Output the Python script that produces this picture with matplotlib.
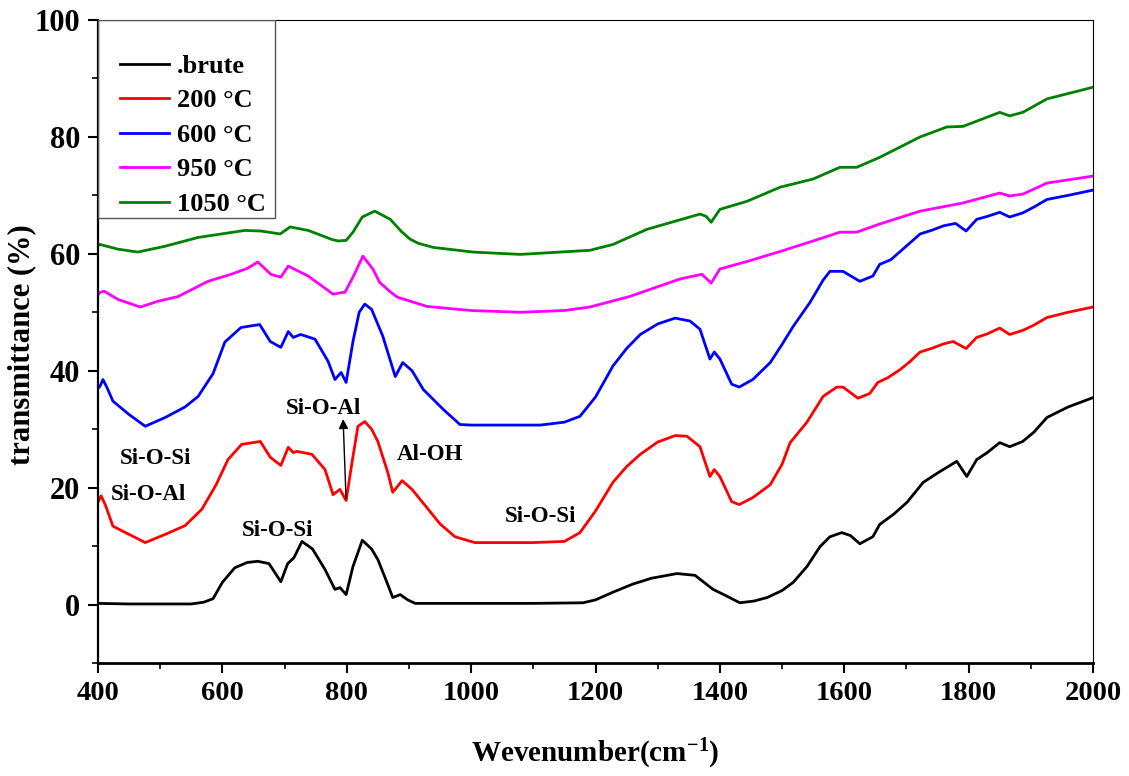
import matplotlib
matplotlib.use("Agg")
import matplotlib.pyplot as plt
from matplotlib.patches import Rectangle
from matplotlib.ticker import MultipleLocator

plt.rcParams['font.family'] = ['Liberation Serif', 'DejaVu Serif']
plt.rcParams['font.weight'] = 'bold'
plt.rcParams['mathtext.fontset'] = 'custom'
plt.rcParams['mathtext.rm'] = 'Liberation Serif:bold'
plt.rcParams['mathtext.it'] = 'Liberation Serif:bold'
plt.rcParams['mathtext.bf'] = 'Liberation Serif:bold'
plt.rcParams['mathtext.default'] = 'rm'

labels = ['.brute', '200 °C', '600 °C', '950 °C', '1050 °C']
colors = ['#000000', '#ff0000', '#0000ff', '#ff00ff', '#008000']

x_brute = [400, 450, 500, 550, 570, 585, 600, 620, 640, 657, 675, 694, 705, 715, 728, 745, 765, 781, 789, 799,
           810, 825, 840, 850, 862, 874, 886, 898, 910, 950, 1000, 1100, 1180, 1200, 1230, 1260, 1290, 1331, 1360,
           1389, 1410, 1432, 1455, 1476, 1500, 1518, 1540, 1561, 1577, 1596, 1610, 1625, 1646, 1657, 1680, 1701,
           1727, 1750, 1781, 1797, 1813, 1830, 1850, 1866, 1887, 1905, 1926, 1960, 2000]
y_brute = [0.2, 0.1, 0.1, 0.1, 0.4, 1.0, 3.8, 6.3, 7.2, 7.4, 7.0, 3.9, 7.0, 8.0, 10.8, 9.5, 6.0, 2.6, 2.9, 1.7,
           6.5, 11.0, 9.5, 7.7, 4.5, 1.2, 1.7, 0.8, 0.2, 0.2, 0.2, 0.2, 0.3, 0.8, 2.2, 3.5, 4.5, 5.3, 5.0,
           2.6, 1.5, 0.3, 0.6, 1.2, 2.4, 3.8, 6.5, 9.9, 11.6, 12.3, 11.8, 10.4, 11.6, 13.7, 15.5, 17.5,
           20.9, 22.5, 24.5, 21.9, 24.8, 26.0, 27.7, 27.0, 27.9, 29.5, 32.0, 33.8, 35.4]

x_200 = [400, 405, 412, 424, 450, 476, 508, 540, 567, 590, 609, 631, 661, 677, 694, 706, 714, 720, 744, 765,
         778, 789, 799, 808, 818, 829, 840, 850, 866, 874, 889, 905, 931, 950, 974, 1006, 1100, 1150, 1175,
         1200, 1228, 1250, 1272, 1300, 1328, 1347, 1368, 1384, 1391, 1400, 1419, 1431, 1453, 1481, 1500, 1513,
         1540, 1566, 1588, 1598, 1622, 1641, 1654, 1670, 1690, 1705, 1722, 1740, 1760, 1775, 1796, 1813,
         1830, 1850, 1866, 1887, 1905, 1926, 1960, 2000]
y_200 = [17.5, 18.6, 17.0, 13.4, 12.0, 10.6, 12.0, 13.5, 16.3, 20.5, 24.8, 27.4, 27.9, 25.2, 23.8, 26.9, 26.0,
         26.2, 25.7, 23.1, 18.8, 19.7, 17.8, 24.0, 30.5, 31.3, 30.0, 27.9, 22.6, 19.2, 21.2, 19.7, 16.3, 13.8,
         11.6, 10.6, 10.6, 10.8, 12.3, 16.0, 20.9, 23.6, 25.7, 27.8, 28.9, 28.8, 27.0, 21.9, 23.1, 21.9, 17.6, 17.1,
         18.3, 20.5, 24.0, 27.7, 31.2, 35.6, 37.2, 37.2, 35.3, 36.1, 38.0, 38.8, 40.2, 41.5, 43.2, 43.8, 44.6,
         45.0, 43.8, 45.7, 46.3, 47.3, 46.2, 46.9, 47.8, 49.1, 50.0, 50.9]

x_600 = [400, 403, 408, 415, 424, 450, 476, 508, 540, 561, 585, 604, 630, 660, 677, 694, 706, 714, 726, 749,
         770, 781, 791, 799, 810, 820, 829, 840, 858, 878, 890, 905, 923, 955, 982, 1000, 1111, 1150, 1175,
         1200, 1228, 1250, 1272, 1300, 1328, 1352, 1368, 1384, 1391, 1400, 1419, 1431, 1453, 1481, 1500, 1518,
         1545, 1566, 1577, 1598, 1625, 1646, 1657, 1675, 1690, 1705, 1722, 1740, 1760, 1779, 1796, 1813,
         1830, 1850, 1866, 1887, 1905, 1926, 1960, 2000]
y_600 = [37.0, 37.3, 38.5, 37.0, 34.8, 32.5, 30.5, 32.0, 33.8, 35.6, 39.5, 44.9, 47.4, 47.9, 45.0, 44.0, 46.7,
         45.7, 46.2, 45.4, 41.6, 38.5, 39.7, 38.0, 45.0, 50.0, 51.4, 50.5, 45.9, 39.0, 41.4, 40.0, 36.8, 33.4,
         30.8, 30.7, 30.7, 31.2, 32.2, 35.5, 40.8, 43.8, 46.2, 48.0, 49.0, 48.5, 47.1, 42.0, 43.2, 42.0, 37.7, 37.2,
         38.5, 41.4, 44.5, 47.6, 51.7, 55.5, 57.0, 57.0, 55.3, 56.2, 58.2, 59.0, 60.4, 61.8, 63.4, 64.0, 64.8,
         65.2, 63.9, 65.9, 66.4, 67.1, 66.3, 67.0, 68.0, 69.3, 70.0, 70.9]

x_950 = [400, 403, 410, 432, 468, 497, 529, 577, 614, 640, 657, 678, 694, 706, 738, 778, 794, 797, 810, 826,
         842, 853, 870, 881, 929, 1000, 1079, 1150, 1191, 1255, 1336, 1371, 1386, 1400, 1444, 1497, 1550, 1593,
         1620, 1657, 1722, 1791, 1850, 1866, 1887, 1926, 2000]
y_950 = [53.0, 53.4, 53.6, 52.2, 50.9, 51.9, 52.7, 55.3, 56.5, 57.5, 58.6, 56.5, 56.0, 57.9, 56.2, 53.1, 53.4,
         53.4, 56.0, 59.6, 57.4, 55.1, 53.5, 52.6, 51.0, 50.3, 50.0, 50.3, 50.9, 52.7, 55.7, 56.5, 55.0, 57.4, 58.7,
         60.4, 62.2, 63.7, 63.7, 65.1, 67.3, 68.7, 70.4, 69.9, 70.2, 72.1, 73.3]

x_1050 = [400, 403, 432, 464, 508, 561, 636, 662, 693, 709, 738, 775, 786, 799, 810, 825, 845, 870, 888, 902,
          915, 939, 1003, 1079, 1191, 1228, 1283, 1368, 1378, 1386, 1400, 1444, 1497, 1550, 1593, 1620, 1657,
          1722, 1765, 1791, 1850, 1866, 1887, 1926, 2000]
y_1050 = [61.4, 61.6, 60.8, 60.3, 61.3, 62.8, 64.0, 63.9, 63.4, 64.6, 64.0, 62.5, 62.2, 62.3, 63.7, 66.3, 67.3,
          65.9, 63.8, 62.5, 61.8, 61.1, 60.3, 59.9, 60.6, 61.6, 64.2, 66.8, 66.4, 65.4, 67.6, 69.0, 71.4, 72.8,
          74.8, 74.8, 76.5, 80.0, 81.7, 81.8, 84.2, 83.6, 84.2, 86.5, 88.5]

series_x = [x_brute, x_200, x_600, x_950, x_1050]
series_y = [y_brute, y_200, y_600, y_950, y_1050]

ann_text = ['Si-O-Si', 'Si-O-Al', 'Si-O-Si', 'Si-O-Al', 'Al-OH', 'Si-O-Si']
ann_x = [492, 482, 688, 763, 934, 1111]
ann_y = [25.0, 18.8, 12.7, 33.5, 25.7, 15.1]

fig = plt.figure(figsize=(11.29, 7.76), dpi=100)
ax = fig.add_axes([98 / 1129, 113 / 776, 995 / 1129, 643 / 776])

for xs, ys, c, lab in zip(series_x, series_y, colors, labels):
    ax.plot(xs, ys, color=c, lw=2.0, label=lab, solid_joinstyle='round')

for t, x, y in zip(ann_text, ann_x, ann_y):
    ax.text(x, y, t, ha='center', va='center', fontsize=16.5, fontweight='bold')

ax.annotate('', xy=(794, 32.2), xytext=(799, 17.6),
            arrowprops=dict(arrowstyle='-|>', color='black', lw=1.0, mutation_scale=14))

ax.set_xlim(400, 2000)
ax.set_ylim(-10, 100)
ax.xaxis.set_major_locator(MultipleLocator(200))
ax.xaxis.set_minor_locator(MultipleLocator(100))
ax.yaxis.set_major_locator(MultipleLocator(20))
ax.yaxis.set_minor_locator(MultipleLocator(10))
ax.tick_params(which='major', direction='out', length=7, width=1.5, pad=6)
ax.tick_params(which='minor', direction='out', length=4, width=1.2)
ax.tick_params(axis='x', labelsize=20.5)
ax.tick_params(axis='y', labelsize=22)
for lab in ax.get_xticklabels() + ax.get_yticklabels():
    lab.set_fontweight('bold')

ax.spines['bottom'].set_linewidth(2.0)
ax.spines['left'].set_linewidth(1.6)
ax.spines['top'].set_linewidth(0.8)
ax.spines['right'].set_linewidth(0.8)

ax.set_xlabel('Wevenumber(cm$^{-1}$)', fontsize=21, fontweight='bold', labelpad=22)
ax.set_ylabel('transmittance (%)', fontsize=22, fontweight='bold')
ax.yaxis.set_label_coords(-0.062, 0.495)

ax.add_patch(Rectangle((0, 1 - 198 / 643), 177 / 995, 198 / 643, transform=ax.transAxes,
                       fill=False, edgecolor='#555555', lw=1.0, zorder=5))
leg = ax.legend(loc='upper left', bbox_to_anchor=(0.012, 0.963), frameon=False,
                prop={'family': 'Liberation Serif', 'weight': 'bold', 'size': 19},
                handlelength=1.85, handletextpad=0.3, labelspacing=0.42, borderaxespad=0.0)

fig.savefig('out.png', dpi=100)
